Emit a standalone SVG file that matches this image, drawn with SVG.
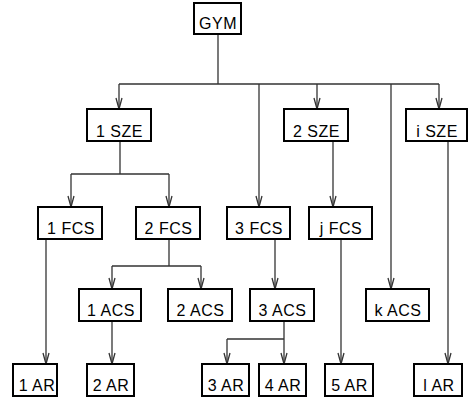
<svg xmlns="http://www.w3.org/2000/svg" width="469" height="398" viewBox="0 0 469 398">
<style>
.box rect{fill:#fff;stroke:#000;stroke-width:2}
.box text{font-family:"Liberation Sans",Arial,sans-serif;font-size:16px;letter-spacing:0.5px;text-anchor:middle;fill:#000}
#connectors path{fill:none;stroke:#333;stroke-width:1.3}
</style>
<defs>
<marker id="arr" markerUnits="userSpaceOnUse" markerWidth="14" markerHeight="10" viewBox="-12 -5 14 10" refX="0" refY="0" orient="auto" overflow="visible">
<path d="M-11,-3 L0,0 L-11,3" fill="none" stroke="#333" stroke-width="1.3"/>
</marker>
</defs>
<g id="connectors">
<path d="M218,34 V84 M119,84 H439"/>
<path d="M119,84 V109" marker-end="url(#arr)"/>
<path d="M259,84 V207" marker-end="url(#arr)"/>
<path d="M317,84 V109" marker-end="url(#arr)"/>
<path d="M391,84 V289" marker-end="url(#arr)"/>
<path d="M439,84 V109" marker-end="url(#arr)"/>
<path d="M120,141 V174 M71,174 H169"/>
<path d="M71,174 V207" marker-end="url(#arr)"/>
<path d="M169,174 V207" marker-end="url(#arr)"/>
<path d="M333,141 V207" marker-end="url(#arr)"/>
<path d="M448,141 V364" marker-end="url(#arr)"/>
<path d="M46,239 V364" marker-end="url(#arr)"/>
<path d="M169,239 V266 M112,266 H201"/>
<path d="M112,266 V289" marker-end="url(#arr)"/>
<path d="M201,266 V289" marker-end="url(#arr)"/>
<path d="M275,239 V289" marker-end="url(#arr)"/>
<path d="M341,239 V364" marker-end="url(#arr)"/>
<path d="M112,321 V364" marker-end="url(#arr)"/>
<path d="M284,321 V339 M227,339 H284"/>
<path d="M227,339 V364" marker-end="url(#arr)"/>
<path d="M284,339 V364" marker-end="url(#arr)"/>
</g>
<g id="gym" class="box"><rect x="194" y="3" width="47" height="31"/><text x="218" y="28.5">GYM</text></g>
<g id="sze1" class="box"><rect x="87" y="109" width="64" height="32"/><text x="119.5" y="136.5">1 SZE</text></g>
<g id="sze2" class="box"><rect x="284" y="109" width="64" height="32"/><text x="316.5" y="136.5">2 SZE</text></g>
<g id="szei" class="box"><rect x="406" y="109" width="61" height="32"/><text x="437" y="136.5">i SZE</text></g>
<g id="fcs1" class="box"><rect x="38" y="207" width="64" height="32"/><text x="71" y="234">1 FCS</text></g>
<g id="fcs2" class="box"><rect x="136" y="207" width="64" height="32"/><text x="168.5" y="234">2 FCS</text></g>
<g id="fcs3" class="box"><rect x="227" y="207" width="63" height="32"/><text x="259" y="234">3 FCS</text></g>
<g id="fcsj" class="box"><rect x="309" y="207" width="63" height="32"/><text x="341" y="234">j FCS</text></g>
<g id="acs1" class="box"><rect x="79" y="289" width="62" height="32"/><text x="111" y="316">1 ACS</text></g>
<g id="acs2" class="box"><rect x="168" y="289" width="64" height="32"/><text x="200.5" y="316">2 ACS</text></g>
<g id="acs3" class="box"><rect x="250" y="289" width="64" height="32"/><text x="282.5" y="316">3 ACS</text></g>
<g id="acsk" class="box"><rect x="366" y="289" width="63" height="32"/><text x="398" y="316">k ACS</text></g>
<g id="ar1" class="box"><rect x="13" y="364" width="44" height="32"/><text x="37" y="391">1 AR</text></g>
<g id="ar2" class="box"><rect x="87" y="364" width="47" height="32"/><text x="111" y="391">2 AR</text></g>
<g id="ar3" class="box"><rect x="202" y="364" width="47" height="32"/><text x="226" y="391">3 AR</text></g>
<g id="ar4" class="box"><rect x="259" y="364" width="47" height="32"/><text x="283" y="391">4 AR</text></g>
<g id="ar5" class="box"><rect x="325" y="364" width="48" height="32"/><text x="349.5" y="391">5 AR</text></g>
<g id="arl" class="box"><rect x="414" y="364" width="48" height="32"/><text x="439" y="391">l AR</text></g>
</svg>
